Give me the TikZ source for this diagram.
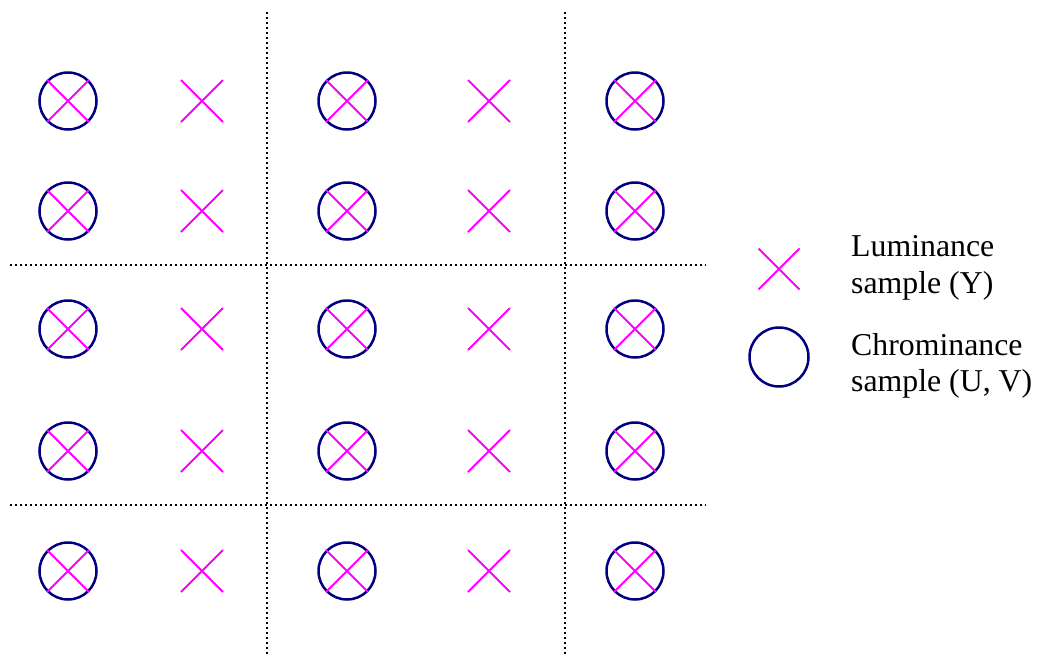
\documentclass[tikz,border=0pt]{standalone}
\usepackage{fontspec}
\setmainfont{Liberation Serif}
\usetikzlibrary{shapes.misc}
\definecolor{lum}{HTML}{FF00FF}
\definecolor{chrom}{HTML}{000080}
\begin{document}
\begin{tikzpicture}[x=1pt,y=-1pt,
  luma/.style={draw=lum,cross out,minimum size=40pt,inner sep=0pt,line width=2pt},
  chroma/.style={draw=chrom,circle,minimum size=57pt,inner sep=0pt,line width=2.5pt},
  grid/.style={line width=2pt,dash pattern=on 2pt off 3pt},
  legtext/.style={anchor=base west,align=left,font=\fontsize{31.8}{36.5}\selectfont,inner sep=0pt}]
\useasboundingbox (0,0) rectangle (1037,654);
% grid lines
\coordinate (v1t) at (267,12); \coordinate (v1b) at (267,654);
\coordinate (v2t) at (565,12); \coordinate (v2b) at (565,654);
\coordinate (h1l) at (10,265); \coordinate (h1r) at (706,265);
\coordinate (h2l) at (10,505); \coordinate (h2r) at (706,505);
\draw[grid] (v1t) -- (v1b);
\draw[grid] (v2t) -- (v2b);
\draw[grid] (h1l) -- (h1r);
\draw[grid] (h2l) -- (h2r);
% samples
\foreach \y [count=\r] in {101,211,329,451,571}{
  \foreach \x [count=\c] in {68,347,635}{
    \node[chroma] (c\r-\c) at (\x,\y) {};
    \node[luma] (yc\r-\c) at (\x,\y) {};
  }
  \foreach \x [count=\c] in {202,489}{
    \node[luma] (y\r-\c) at (\x,\y) {};
  }
}
% legend
\node[luma,minimum size=39pt] (legY) at (779,269) {};
\node[chroma,minimum size=59pt] (legC) at (779,357) {};
\node[legtext] (legYt) at (851,293) {Luminance\\sample (Y)};
\node[legtext] (legCt) at (851,391.5) {Chrominance\\sample (U, V)};
\end{tikzpicture}
\end{document}
